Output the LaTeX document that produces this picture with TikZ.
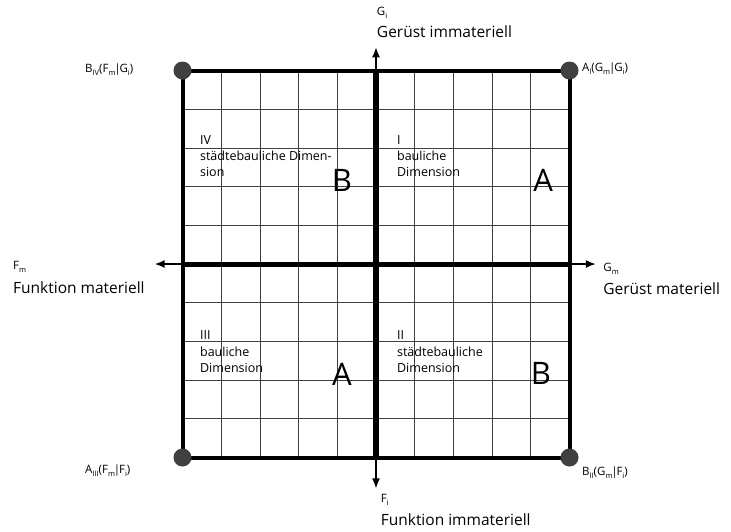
\documentclass[tikz,border=0pt]{standalone}
\usepackage{fontspec}
\setmainfont{Open Sans}
\usetikzlibrary{arrows.meta}
\newcommand{\idx}[1]{\raisebox{-0.5ex}{\fontsize{7.5}{8}\selectfont #1}}
\newcommand{\str}{\kern-0.1em|\kern-0.1em}

\begin{document}
\begin{tikzpicture}[x=38.7pt,y=38.7pt,
 gitter/.style={line width=0.8pt,black!75},
 rand/.style={line width=4pt},
 achse/.style={line width=1.6pt,-{Latex[length=10pt,width=8pt]}},
 ecke/.style={circle,fill=black!75,inner sep=0pt,minimum size=18pt},
 klein/.style={anchor=west,inner sep=0pt,font=\fontsize{11.5}{13}\selectfont},
 gross/.style={anchor=west,inner sep=0pt,font=\fontsize{15.5}{18}\selectfont},
 quad/.style={anchor=base west,inner sep=0pt,align=left,font=\fontsize{12.5}{16.2}\selectfont},
 buchst/.style={inner sep=0pt,font=\fontsize{31}{31}\selectfont}]
 \useasboundingbox (-9.716,-6.899) rectangle (9.173,6.822);
 % Raster und Rahmen
 \draw[gitter,step=1] (-5,-5) grid (5,5);
 \draw[rand] (-5,-5) rectangle (5,5);
 \coordinate (o) at (0,0);
 \coordinate (gi) at (0,5.6); \coordinate (fi) at (0,-5.8);
 \coordinate (gm) at (5.68,0); \coordinate (fm) at (-5.72,0);
 \foreach \z in {gi,fi,gm,fm} \draw[achse] (o) -- (\z);
 \draw[line width=6pt] (0,-5) -- (0,5); \draw[line width=5pt] (-5,0) -- (5,0);
 % Ecken
 \node[ecke] (eI) at (5,5) {}; \node[ecke] (eII) at (5,-5) {}; \node[ecke] (eIII) at (-5,-5) {}; \node[ecke] (eIV) at (-5,5) {};
 \node[klein] (lI) at (5.32,5.06) {A\idx{I}(G\idx{m}\str G\idx{i})};
 \node[klein] (lII) at (5.32,-5.38) {B\idx{II}(G\idx{m}\str F\idx{i})};
 \node[klein] (lIII) at (-7.52,-5.35) {A\idx{III}(F\idx{m}\str F\idx{i})};
 \node[klein] (lIV) at (-7.52,5.03) {B\idx{IV}(F\idx{m}\str G\idx{i})};
 % Achsen
 \node[klein] (tgi) at (0.02,6.48) {G\idx{i}}; \node[gross] (ngi) at (0.02,6.0) {Gerüst immateriell};
 \node[klein] (tgm) at (5.87,-0.13) {G\idx{m}}; \node[gross] (ngm) at (5.87,-0.65) {Gerüst materiell};
 \node[klein] (tfm) at (-9.38,-0.08) {F\idx{m}}; \node[gross] (nfm) at (-9.38,-0.62) {Funktion materiell};
 \node[klein] (tfi) at (0.12,-6.10) {F\idx{i}}; \node[gross] (nfi) at (0.12,-6.61) {Funktion immateriell};
 % Quadranten
 \node[quad] (qI) at (0.54,2.26) {I\\bauliche\\Dimension};
 \node[quad] (qII) at (0.54,-2.80) {II\\städtebauliche\\Dimension};
 \node[quad] (qIII) at (-4.55,-2.80) {III\\bauliche\\Dimension};
 \node[quad] (qIV) at (-4.55,2.26) {IV\\städtebauliche Dimen-\\sion};
 \node[buchst] (bI) at (4.32,2.17) {A}; \node[buchst] (bII) at (4.26,-2.84) {B};
 \node[buchst] (bIII) at (-0.88,-2.84) {A}; \node[buchst] (bIV) at (-0.88,2.17) {B};
\end{tikzpicture}
\end{document}
